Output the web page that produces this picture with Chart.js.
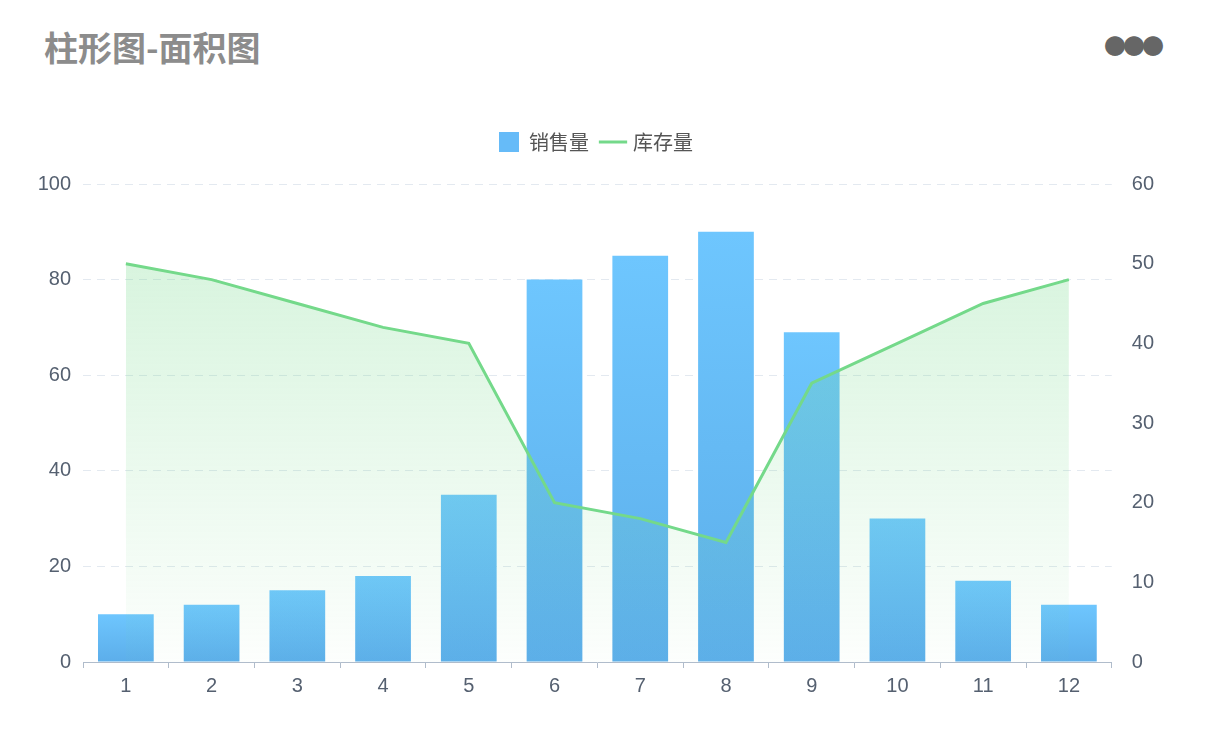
<!DOCTYPE html>
<html><head><meta charset="utf-8">
<script src="https://cdn.jsdelivr.net/npm/chart.js@4/dist/chart.umd.min.js"></script>
<style>
body{margin:0;background:#fff;width:1206px;height:730px;overflow:hidden;font-family:"Noto Sans CJK SC",sans-serif}
#title{position:absolute;left:44px;top:22px;font-size:34px;font-weight:bold;color:#8c8c8c}
#dots{position:absolute;left:1104px;top:28px;font-size:22px;color:#666;font-weight:bold;letter-spacing:-3px}
#wrap{position:absolute;left:0;top:118px;width:1206px;height:600px}
</style></head><body>
<div id="title">柱形图-面积图</div>
<div id="dots">●●●</div>
<div id="wrap"><canvas id="c"></canvas></div>
<script>
const categories=['1','2','3','4','5','6','7','8','9','10','11','12'];
const sales=[10,12,15,18,35,80,85,90,69,30,17,12];
const stock=[50,48,45,42,40,20,18,15,35,40,45,48];
const ctx=document.getElementById('c').getContext('2d');
function barGrad(c){const ch=c.chart,a=ch.chartArea;if(!a||c.parsed==null)return '#66bbf8';const top=ch.scales.y.getPixelForValue(c.parsed.y);const g=ch.ctx.createLinearGradient(0,top,0,a.bottom);g.addColorStop(0,'#6ec6fe');g.addColorStop(1,'#5caeea');return g;}
function areaGrad(c){const a=c.chart.chartArea;if(!a)return 'rgba(116,217,138,0.2)';const g=c.chart.ctx.createLinearGradient(0,a.top+80,0,a.bottom);g.addColorStop(0,'rgba(116,217,138,0.28)');g.addColorStop(1,'rgba(116,217,138,0.02)');return g;}
new Chart(ctx,{
 data:{labels:categories,datasets:[
  {type:'line',label:'库存量',data:stock,yAxisID:'y1',borderColor:'#74d98a',borderWidth:3,pointRadius:0,tension:0,fill:'origin',backgroundColor:areaGrad,order:0},
  {type:'bar',label:'销售量',data:sales,yAxisID:'y',backgroundColor:barGrad,categoryPercentage:0.65,barPercentage:1,order:1}
 ]},
 options:{responsive:true,maintainAspectRatio:false,animation:false,
  layout:{padding:{left:26,right:40,bottom:14}},
  plugins:{legend:{labels:{font:{size:20,family:'Noto Sans CJK SC'},color:'#555',usePointStyle:true,padding:14,
    generateLabels(ch){return [{text:'销售量',fillStyle:'#66bbf8',strokeStyle:'#66bbf8',lineWidth:0,pointStyle:'rect',datasetIndex:1,fontColor:'#555'},{text:'库存量',fillStyle:'#74d98a',strokeStyle:'#74d98a',lineWidth:3,pointStyle:'line',datasetIndex:0,fontColor:'#555'}];}}}},
  scales:{
   x:{grid:{display:true,drawOnChartArea:false,drawTicks:true,tickLength:6,color:'#b0bccb',offset:true},border:{color:'#b0bccb'},ticks:{color:'#556070',font:{size:20},padding:6}},
   y:{min:0,max:100,afterFit(s){s.width=83-26;},ticks:{stepSize:20,color:'#556070',font:{size:20},padding:12},grid:{color:'#e3e9f0',drawTicks:false},border:{display:false,dash:[8,6]}},
   y1:{position:'right',min:0,max:60,ticks:{stepSize:10,color:'#556070',font:{size:20},padding:12},grid:{display:false},border:{display:false}}
  }},
 plugins:[{id:'pad',beforeInit(ch){const f=ch.legend.fit;ch.legend.fit=function(){f.call(this);this.height+=22;};}}]
});
</script></body></html>
